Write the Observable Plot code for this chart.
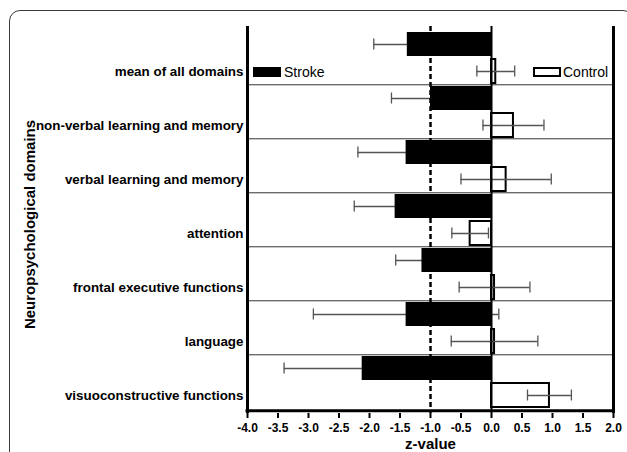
<!DOCTYPE html>
<html><head><meta charset="utf-8">
<script src="https://cdn.jsdelivr.net/npm/d3@7"></script>
<script src="https://cdn.jsdelivr.net/npm/@observablehq/plot@0.6"></script>
<style>
html,body{margin:0;padding:0;background:#fff;overflow:hidden;width:627px;height:452px;}
#wrap{position:relative;width:627px;height:452px;font-family:"Liberation Sans",Arial,sans-serif;}
#wrap svg{position:absolute;left:0;top:0;}
#border{position:absolute;left:9px;top:10px;width:625px;height:520px;border:1.5px solid #3a3a3a;border-radius:11px;box-sizing:border-box;}
.lg{position:absolute;font-size:14px;color:#000;line-height:14px;white-space:nowrap;}
.sw{position:absolute;box-sizing:border-box;}
</style></head><body><div id="wrap"></div>
<script>
// ---- data ----
const domains = [
  "mean of all domains",
  "non-verbal learning and memory",
  "verbal learning and memory",
  "attention",
  "frontal executive functions",
  "language",
  "visuoconstructive functions"
];
const strokeMean  = [-1.38, -1.00, -1.40, -1.58, -1.14, -1.40, -2.12];
const strokeSD    = [ 0.55,  0.64,  0.79,  0.67,  0.43,  1.52,  1.28];
const controlMean = [ 0.07,  0.36,  0.24, -0.35,  0.05,  0.05,  0.95];
const controlSD   = [ 0.31,  0.50,  0.74,  0.30,  0.58,  0.71,  0.36];
const xTicks = [-4, -3.5, -3, -2.5, -2, -1.5, -1, -0.5, 0, 0.5, 1, 1.5, 2];
const groups = ["Stroke", "Control"];

// ---- table built from the arrays ----
const rows = domains.flatMap((d, i) => [
  {key: d + "|" + groups[0], group: groups[0], domain: d, mean: strokeMean[i], sd: strokeSD[i]},
  {key: d + "|" + groups[1], group: groups[1], domain: d, mean: controlMean[i], sd: controlSD[i]}
]);
const yKeys = rows.map(r => r.key);
const strokeRows = rows.filter(r => r.group === "Stroke");
const controlRows = rows.filter(r => r.group === "Control");

const W = 627, H = 452, mL = 247, mR = 14, mT = 26, mB = 39, pad = 0.12;
const n = yKeys.length;
const step = (H - mT - mB) / (n - pad + 2 * pad);
const bw = step * (1 - pad);
const cap = 6.5;
const errColor = "#555";

const chart = Plot.plot({
  width: W, height: H,
  marginLeft: mL, marginRight: mR, marginTop: mT, marginBottom: mB,
  style: {fontFamily: "'Liberation Sans', Arial, sans-serif", fontWeight: "bold", background: "transparent", overflow: "visible"},
  x: {domain: [-4, 2]},
  y: {type: "band", domain: yKeys, padding: pad},
  marks: [
    // band separators
    Plot.ruleY(strokeRows.slice(1), {y: "key", dy: -step / 2, stroke: "#333", strokeWidth: 1}),
    // stroke error bars (behind bars)
    Plot.ruleY(strokeRows, {y: "key", x1: d => d.mean - d.sd, x2: d => d.mean + d.sd, stroke: errColor, strokeWidth: 1.3}),
    Plot.tickX(strokeRows, {x: d => d.mean - d.sd, y: "key", insetTop: cap, insetBottom: cap, stroke: errColor, strokeWidth: 1.3}),
    Plot.tickX(strokeRows, {x: d => d.mean + d.sd, y: "key", insetTop: cap, insetBottom: cap, stroke: errColor, strokeWidth: 1.3}),
    // bars
    Plot.barX(strokeRows, {x1: 0, x2: "mean", y: "key", fill: "#000"}),
    Plot.barX(controlRows, {x1: 0, x2: "mean", y: "key", fill: "#fff", stroke: "#000", strokeWidth: 2}),
    // control error bars (on top)
    Plot.ruleY(controlRows, {y: "key", x1: d => d.mean - d.sd, x2: d => d.mean + d.sd, stroke: errColor, strokeWidth: 1.3}),
    Plot.tickX(controlRows, {x: d => d.mean - d.sd, y: "key", insetTop: cap, insetBottom: cap, stroke: errColor, strokeWidth: 1.3}),
    Plot.tickX(controlRows, {x: d => d.mean + d.sd, y: "key", insetTop: cap, insetBottom: cap, stroke: errColor, strokeWidth: 1.3}),
    // reference lines
    Plot.ruleX([0], {stroke: "#000", strokeWidth: 2}),
    Plot.ruleX([-1], {stroke: "#000", strokeWidth: 2.5, strokeDasharray: "5,3"}),
    Plot.ruleX([-4], {stroke: "#000", strokeWidth: 3}),
    Plot.ruleX([2], {stroke: "#000", strokeWidth: 3}),
    Plot.ruleY([yKeys[n - 1]], {dy: bw / 2 + step * pad, stroke: "#000", strokeWidth: 3, insetLeft: -1.5, insetRight: -1.5}),
    // axes
    Plot.axisX({ticks: xTicks, tickFormat: d => d.toFixed(1), tickSize: 5, tickPadding: 5, fontSize: 12, strokeWidth: 2, label: null}),
    Plot.axisY({ticks: controlRows.map(r => r.key), tickFormat: k => k.split("|")[0], tickSize: 0, tickPadding: 4, fontSize: 13.4, label: null}),
    Plot.text(["Neuropsychological domains"], {text: d => d, frameAnchor: "left", textAnchor: "middle", rotate: -90, dx: -217, dy: 4.5, fontSize: 15}),
    Plot.text(["z-value"], {text: d => d, frameAnchor: "bottom", dy: 35, fontSize: 15})
  ]
});

const wrap = document.getElementById("wrap");
wrap.appendChild(chart);

// legend (inside plot area, as in the reference)
function addLegend(label, swLeft, txtLeft, filled) {
  const sw = document.createElement("div");
  sw.className = "sw";
  sw.style.left = swLeft + "px"; sw.style.top = "67px";
  sw.style.width = "28px"; sw.style.height = "10px";
  if (filled) sw.style.background = "#000";
  else { sw.style.background = "#fff"; sw.style.border = "2px solid #000"; }
  wrap.appendChild(sw);
  const t = document.createElement("div");
  t.className = "lg"; t.textContent = label;
  t.style.left = txtLeft + "px"; t.style.top = "65px";
  wrap.appendChild(t);
}
addLegend(groups[0], 253, 284, true);
addLegend(groups[1], 533, 563, false);

const border = document.createElement("div");
border.id = "border";
wrap.appendChild(border);
</script>
</body></html>
